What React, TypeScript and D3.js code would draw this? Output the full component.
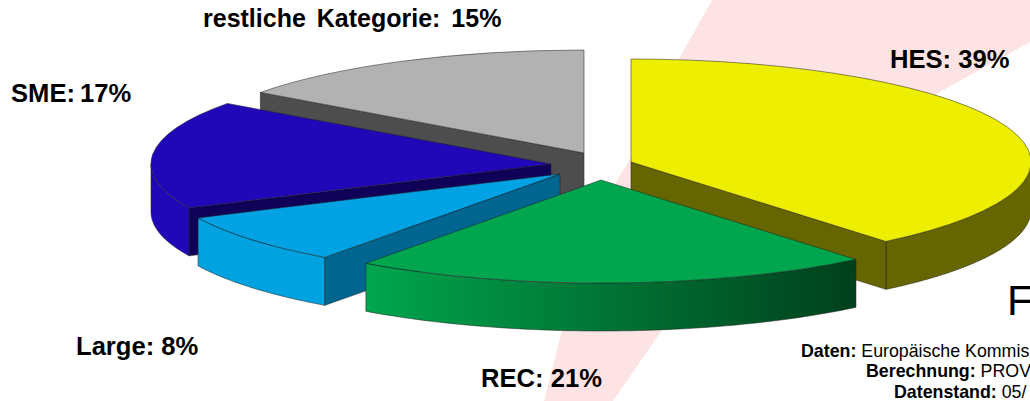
import React, { useEffect, useRef } from 'react';
import * as d3 from 'd3';

// Slices in pie order, clockwise from 12 o'clock
const categories = ['HES', 'REC', 'Large', 'SME', 'restliche Kategorie'];
const shares = [39, 21, 8, 17, 15];

const topColors = ['#eeee00', '#00a64d', '#00a2e3', '#2008b8', '#b2b2b2'];
const rimColors = ['#666600', 'url(#recRim)', '#00a2e0', '#2008b8', '#b2b2b2'];
const wallColors = ['#666600', '#006b3a', '#006690', '#0f0058', '#4d4d4d'];

// Where each exploded slice has its tip, and where its label starts
const tips = [[631, 162], [601, 180], [560, 174], [551, 164], [584, 153]];
const labelPos = [[890, 68], [481, 387], [76, 355], [11, 102], [203, 27]];
const labelSizes = [25.6, 25.6, 25.6, 25.6, 25];
const labelGaps = [0, 0, 0, -2, 4];

// Back slices first so the front ones cover them
const drawOrder = [4, 3, 2, 0, 1];

const sourceLines = [
  { x: 801, y: 357, bold: 'Daten:', rest: 'Europäische Kommis' },
  { x: 866, y: 377, bold: 'Berechnung:', rest: 'PROV' },
  { x: 894, y: 398, bold: 'Datenstand:', rest: '05/' },
];

const watermark: [number, number][] = [
  [712, 0], [1030, 0], [1030, 42], [938, 93], [662, 330], [613, 401],
  [544, 401], [562, 330], [618, 178], [628, 163], [680, 57],
];

const width = 1030;
const height = 401;
const rx = 400;
const ry = 103;
const depth = 48;
const font = '"Liberation Sans", Arial, sans-serif';

export default function App() {
  const svgRef = useRef<SVGSVGElement>(null);

  useEffect(() => {
    const svg = d3.select(svgRef.current);
    svg.selectAll('*').remove();

    const grad = svg.append('defs').append('linearGradient').attr('id', 'recRim');
    grad.append('stop').attr('offset', '0%').attr('stop-color', '#00a64d');
    grad.append('stop').attr('offset', '100%').attr('stop-color', '#00401c');

    svg.append('path')
      .attr('d', d3.line()(watermark) + 'Z')
      .attr('fill', '#fde3e3');

    const angles = d3.pie<number>().sort(null).value(d => d)(shares);
    const line = d3.line();

    drawOrder.forEach(i => {
      const { startAngle: a0, endAngle: a1 } = angles[i];
      const [cx, cy] = tips[i];
      const pt = (a: number, dy = 0): [number, number] =>
        [cx + rx * Math.sin(a), cy - ry * Math.cos(a) + dy];
      const g = svg.append('g')
        .attr('stroke', '#222')
        .attr('stroke-width', 0.7)
        .attr('stroke-opacity', 0.75);

      // outer rim, only the part that faces the viewer
      const r0 = Math.max(a0, Math.PI / 2);
      const r1 = Math.min(a1, Math.PI * 1.5);
      if (r0 < r1) {
        const steps = d3.range(0, 61).map(k => r0 + (r1 - r0) * k / 60);
        const outline = [
          ...steps.map(a => pt(a)),
          ...steps.slice().reverse().map(a => pt(a, depth)),
        ];
        g.append('path')
          .attr('d', line(outline) + 'Z')
          .attr('fill', rimColors[i]);
      }

      // cut faces that look towards the viewer
      const faces: number[] = [];
      if (a0 > Math.PI) faces.push(a0);
      if (a1 < Math.PI) faces.push(a1);
      faces.forEach(a => {
        const wall: [number, number][] = [[cx, cy], pt(a), pt(a, depth), [cx, cy + depth]];
        g.append('path')
          .attr('d', line(wall) + 'Z')
          .attr('fill', wallColors[i]);
      });

      // top surface: a unit pie slice squashed into the ellipse
      const arc = d3.arc<any>().innerRadius(0).outerRadius(1);
      g.append('path')
        .attr('d', arc({ startAngle: a0, endAngle: a1 }))
        .attr('transform', `translate(${cx},${cy}) scale(${rx},${ry})`)
        .attr('vector-effect', 'non-scaling-stroke')
        .attr('fill', topColors[i]);
    });

    categories.forEach((c, i) => {
      svg.append('text')
        .attr('x', labelPos[i][0])
        .attr('y', labelPos[i][1])
        .attr('font-family', font)
        .attr('font-size', labelSizes[i])
        .attr('font-weight', 'bold')
        .attr('word-spacing', labelGaps[i])
        .attr('fill', '#000')
        .text(`${c}: ${shares[i]}%`);
    });

    svg.append('text')
      .attr('x', 1007)
      .attr('y', 315)
      .attr('font-family', font)
      .attr('font-size', 42)
      .attr('fill', '#000')
      .text('F');

    sourceLines.forEach(l => {
      const t = svg.append('text')
        .attr('x', l.x)
        .attr('y', l.y)
        .attr('font-family', font)
        .attr('font-size', 17.8)
        .attr('fill', '#000');
      t.append('tspan').attr('font-weight', 'bold').text(l.bold + ' ');
      t.append('tspan').text(l.rest);
    });
  }, []);

  return (
    <svg
      ref={svgRef}
      width={width}
      height={height}
      style={{ position: 'absolute', left: 0, top: 0, background: '#fff' }}
    />
  );
}
